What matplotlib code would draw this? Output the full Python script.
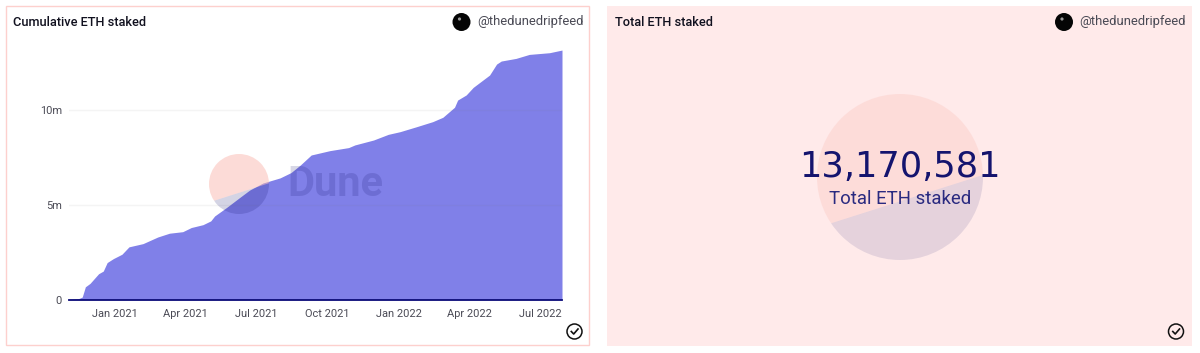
import matplotlib
matplotlib.use("Agg")
import matplotlib.pyplot as plt
import matplotlib.dates as mdates
from matplotlib.patches import Circle, Polygon, Rectangle
from datetime import date

# data
dates = ["2020-11-03", "2020-11-15", "2020-11-20", "2020-11-24", "2020-11-30", "2020-12-11",
         "2020-12-17", "2020-12-22", "2020-12-30", "2021-01-10", "2021-01-19", "2021-02-06",
         "2021-02-25", "2021-03-12", "2021-03-29", "2021-04-09", "2021-04-24", "2021-05-04",
         "2021-05-09", "2021-05-24", "2021-06-10", "2021-06-23", "2021-07-10", "2021-08-01",
         "2021-08-15", "2021-08-27", "2021-09-10", "2021-10-04", "2021-10-28", "2021-11-05", "2021-11-29",
         "2021-12-18", "2022-01-02", "2022-01-23", "2022-02-13", "2022-02-26", "2022-03-13",
         "2022-03-17", "2022-03-28", "2022-04-06", "2022-04-27", "2022-05-06", "2022-05-12",
         "2022-05-31", "2022-06-17", "2022-07-13", "2022-07-29"]
staked = [0.0, 0.04, 0.13, 0.67, 0.85, 1.36, 1.50, 1.95, 2.16, 2.39, 2.78, 2.95,
          3.30, 3.50, 3.58, 3.80, 3.95, 4.15, 4.41, 4.85, 5.38, 5.78, 6.15, 6.42,
          6.70, 7.10, 7.63, 7.86, 8.02, 8.16, 8.42, 8.72, 8.86, 9.12, 9.39, 9.62, 10.15,
          10.53, 10.80, 11.20, 11.85, 12.43, 12.59, 12.73, 12.94, 13.03, 13.17]
x_tick_dates = ["2021-01-01", "2021-04-01", "2021-07-01", "2021-10-01", "2022-01-01", "2022-04-01", "2022-07-01"]
x_tick_labels = ["Jan 2021", "Apr 2021", "Jul 2021", "Oct 2021", "Jan 2022", "Apr 2022", "Jul 2022"]
y_ticks = [0, 5, 10]
y_tick_labels = ["0", "5m", "10m"]
total_value = "13,170,581"
title_left = "Cumulative ETH staked"
title_right = "Total ETH staked"
handle = "@thedunedripfeed"

W, H = 1200, 353
plt.rcParams["font.family"] = ["Roboto", "DejaVu Sans"]
NAVY = "#14146e"

fig = plt.figure(figsize=(W / 100, H / 100), dpi=100, facecolor="white")


def pixel_axes(zorder):
    a = fig.add_axes([0, 0, 1, 1], zorder=zorder)
    a.set_xlim(0, W)
    a.set_ylim(H, 0)
    a.axis("off")
    return a


back = pixel_axes(0)
front = pixel_axes(2)

# panels
back.add_patch(Rectangle((6, 6), 583, 339, fc="white", ec="#fdd0cd", lw=1))
back.add_patch(Rectangle((607, 6), 585, 340, fc="#ffeaea", ec="none"))

# chart
ax = fig.add_axes([69 / W, (H - 299.5) / H, (562 - 69) / W, (299.5 - 40) / H], zorder=1)
ax.patch.set_alpha(0)
xs = [mdates.date2num(date.fromisoformat(d)) for d in dates]
ax.fill_between(xs, staked, 0, color="#8080e8", lw=0, zorder=2)
ax.set_xlim(xs[0], xs[-1])
ax.set_ylim(0, 259.5 / 18.94)
ax.set_xticks([mdates.date2num(date.fromisoformat(d)) for d in x_tick_dates])
ax.set_xticklabels(x_tick_labels)
ax.set_yticks(y_ticks)
ax.set_yticklabels(y_tick_labels)
ax.tick_params(length=0, labelsize=7.9, labelcolor="#4a4a55", pad=6.5)
ax.tick_params(axis="y", pad=5)
ax.grid(axis="y", color="#777777", alpha=0.08, lw=1, zorder=3)
ax.grid(axis="x", visible=False)
ax.set_axisbelow(False)
for s in ["top", "right", "left"]:
    ax.spines[s].set_visible(False)
ax.spines["bottom"].set_color("#0a0a78")
ax.spines["bottom"].set_linewidth(1.3)


def watermark(a, cx, cy, r, up_alpha, low_alpha):
    # two tone disc split by a slanted edge
    upper = Circle((cx, cy), r, fc="#fab4aa", ec="none", alpha=up_alpha)
    lower = Circle((cx, cy), r, fc="#14146e", ec="none", alpha=low_alpha)
    k = r / 83
    edge_y = lambda x: cy + 46 * k - 0.318 * (x - (cx - 68 * k))
    p0 = (cx - 2 * r, edge_y(cx - 2 * r))
    p1 = (cx + 2 * r, edge_y(cx + 2 * r))
    up_poly = Polygon([p0, p1, (cx + 2 * r, cy - 3 * r), (cx - 2 * r, cy - 3 * r)], transform=a.transData)
    low_poly = Polygon([p0, p1, (cx + 2 * r, cy + 3 * r), (cx - 2 * r, cy + 3 * r)], transform=a.transData)
    a.add_patch(upper)
    a.add_patch(lower)
    upper.set_clip_path(up_poly)
    lower.set_clip_path(low_poly)


watermark(front, 239, 184, 30, 0.47, 0.18)
front.text(287, 185, "Dune", fontsize=30, fontweight="bold", color=NAVY, alpha=0.17, va="center", ha="left")
watermark(back, 900, 177, 83, 0.25, 0.11)

# headers
for x, t in [(13, title_left), (615, title_right)]:
    front.text(x, 22, t, fontsize=9.2, fontweight="medium", color="#11111f", va="center", ha="left")
for cx, tx in [(461.5, 477), (1064, 1079)]:
    front.add_patch(Circle((cx, 22), 9, fc="#050505", ec="none"))
    front.add_patch(Circle((cx + -2, 19), 1.6, fc="#999999", ec="none"))
    front.text(tx, 22, handle, fontsize=9.4, color="#4a4a55", va="center", ha="left")

# check icons
for cx in [574.5, 1176]:
    front.add_patch(Circle((cx, 331.5), 7.5, fc="none", ec="#111111", lw=1.1))
    front.plot([cx - 3.2, cx - 0.8, cx + 3.5], [331.5, 334, 329], color="#111111", lw=1.2)

# big number
front.text(900, 167, total_value, fontsize=25.3, family=["DejaVu Sans"], color=NAVY, va="center", ha="center")
front.text(900, 198.5, title_right, fontsize=13.4, color="#2a2a80", va="center", ha="center")

fig.savefig("out.png", dpi=100)
